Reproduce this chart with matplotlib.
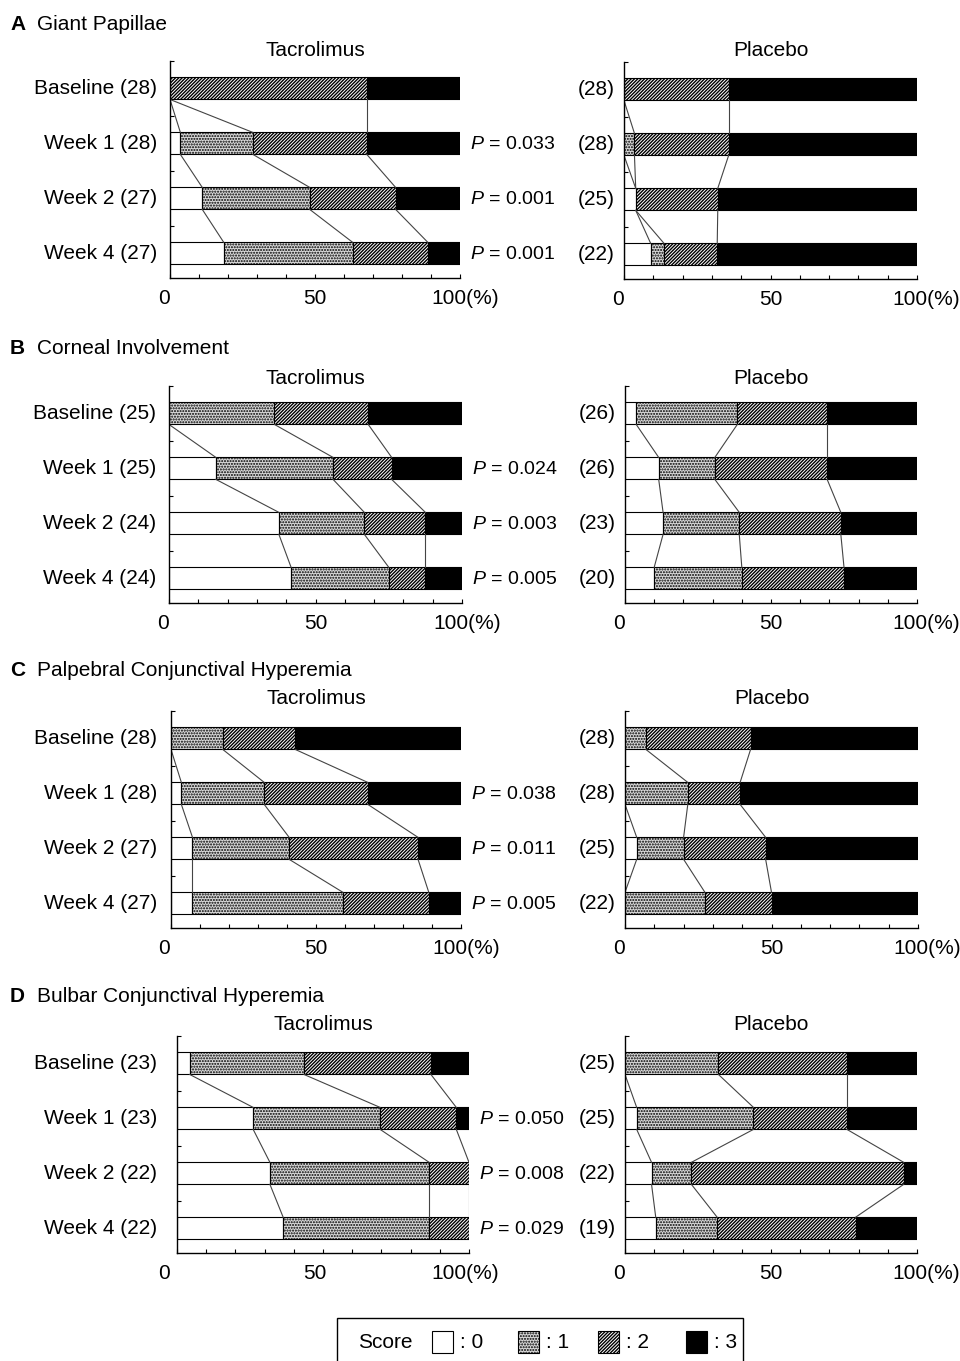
import matplotlib.pyplot as plt
from matplotlib.patches import Rectangle

plt.rcParams['font.family'] = ['Liberation Sans', 'DejaVu Sans']
plt.rcParams['mathtext.fontset'] = 'custom'
plt.rcParams['mathtext.rm'] = 'Liberation Sans'
plt.rcParams['mathtext.it'] = 'Liberation Sans:italic'
plt.rcParams['hatch.linewidth'] = 1.0

W, H = 960, 1361
FS = 15

timepoints = ['Baseline', 'Week 1', 'Week 2', 'Week 4']
scores = ['0', '1', '2', '3']
groups = ['Tacrolimus', 'Placebo']

# number of patients with score 0/1/2/3 at each time point
gp_tac = [[0, 0, 19, 9], [1, 7, 11, 9], [3, 10, 8, 6], [5, 12, 7, 3]]
gp_pla = [[0, 0, 10, 18], [0, 1, 9, 18], [1, 0, 7, 17], [2, 1, 4, 15]]
ci_tac = [[0, 9, 8, 8], [4, 10, 5, 6], [9, 7, 5, 3], [10, 8, 3, 3]]
ci_pla = [[1, 9, 8, 8], [3, 5, 10, 8], [3, 6, 8, 6], [2, 6, 7, 5]]
pc_tac = [[0, 5, 7, 16], [1, 8, 10, 9], [2, 9, 12, 4], [2, 14, 8, 3]]
pc_pla = [[0, 2, 10, 16], [0, 6, 5, 17], [1, 4, 7, 13], [0, 6, 5, 11]]
bc_tac = [[1, 9, 10, 3], [6, 10, 6, 1], [7, 12, 3, 0], [8, 11, 3, 0]]
bc_pla = [[0, 8, 11, 6], [1, 10, 8, 6], [2, 3, 16, 1], [2, 4, 9, 4]]

gp_p = ['0.033', '0.001', '0.001']
ci_p = ['0.024', '0.003', '0.005']
pc_p = ['0.038', '0.011', '0.005']
bc_p = ['0.050', '0.008', '0.029']

panel_letters = ['A', 'B', 'C', 'D']
panel_titles = ['Giant Papillae', 'Corneal Involvement',
                'Palpebral Conjunctival Hyperemia', 'Bulbar Conjunctival Hyperemia']
panel_data = [(gp_tac, gp_pla, gp_p), (ci_tac, ci_pla, ci_p),
              (pc_tac, pc_pla, pc_p), (bc_tac, bc_pla, bc_p)]

# layout in pixels: (left, right, bottom) of each axes, heading y, group title y
ax_px = [((170, 460, 278), (624, 917, 279)),
         ((169, 462, 603), (625, 917, 603)),
         ((171, 461, 928), (625, 918, 928)),
         ((177, 469, 1253), (625, 917, 1253))]
# where the row labels / x tick labels sit (px, left and right end of the scale)
lab_px = [((170, 460), (624, 917)),
          ((169, 462), (625, 917)),
          ((170, 461), (625, 918)),
          ((170, 460), (625, 917))]
head_y = [24, 349, 670, 996]
grp_y = [50, 378, 698, 1024]
AX_H = 217

styles = [dict(facecolor='white', hatch=None),
          dict(facecolor='#d9d9d9', hatch='......'),
          dict(facecolor='white', hatch='//////////'),
          dict(facecolor='black', hatch=None)]


def fx(px):
    return px / W


def fy(py):
    return 1 - py / H


def draw_bars(ax, counts):
    ypos = [3, 2, 1, 0]
    h = 0.4
    cums = []
    for row, y in zip(counts, ypos):
        n = sum(row)
        left = 0
        cum = [0]
        for k, c in enumerate(row):
            w = 100 * c / n
            if w > 0:
                ax.barh(y, w, left=left, height=h, edgecolor='black',
                        linewidth=0.8, **styles[k])
            left += w
            cum.append(left)
        cums.append(cum)
    for i in range(len(ypos) - 1):
        for k in (1, 2, 3):
            ax.plot([cums[i][k], cums[i + 1][k]], [ypos[i] - h / 2, ypos[i + 1] + h / 2],
                    color='#444444', lw=0.8, zorder=1)
    return ypos


fig = plt.figure(figsize=(W / 100, H / 100), dpi=100)

for p in range(4):
    tac, pla, pvals = panel_data[p]
    fig.text(fx(10), fy(head_y[p]), panel_letters[p], fontsize=FS, fontweight='bold',
             ha='left', va='center')
    fig.text(fx(37), fy(head_y[p]), panel_titles[p], fontsize=FS, ha='left', va='center')
    for g, counts in enumerate([tac, pla]):
        l, r, b = ax_px[p][g]
        ll, lr = lab_px[p][g]
        ax = fig.add_axes([fx(l), fy(b), (r - l) / W, AX_H / H])
        ypos = draw_bars(ax, counts)
        ax.set_xlim(0, 100)
        ax.set_ylim(-0.45, 3.5)
        for s in ('top', 'right'):
            ax.spines[s].set_visible(False)
        for s in ('left', 'bottom'):
            ax.spines[s].set_linewidth(1.0)
        ax.set_xticks(range(0, 101, 10))
        ax.set_xticklabels([])
        ax.set_yticks([0.5, 1.5, 2.5, 3.5])
        ax.set_yticklabels([])
        ax.tick_params(direction='in', length=3, width=0.8)
        # x labels
        ty = fy(b + 11)
        fig.text(fx(ll), ty, '0', fontsize=FS, ha='right', va='top')
        fig.text(fx((ll + lr) / 2), ty, '50', fontsize=FS, ha='center', va='top')
        fig.text(fx(lr + (5 if g == 0 else 9)), ty, '100(%)', fontsize=FS, ha='center', va='top')
        # row labels
        for t, row, y in zip(timepoints, counts, ypos):
            lab = f'{t} ({sum(row)})' if g == 0 else f'({sum(row)})'
            off_px = 13 if g == 0 else 9
            ax.annotate(lab, xy=(fx(ll - off_px), y), xycoords=(fig.transFigure, 'data'),
                        ha='right', va='center', fontsize=FS)
        if g == 0:
            for pv, y in zip(pvals, ypos[1:]):
                ax.annotate(f'$P$ = {pv}', xy=(1, y), xycoords=('axes fraction', 'data'),
                            xytext=(7, -1), textcoords='offset points', ha='left',
                            va='center', fontsize=FS - 1)
        fig.text(fx((l + r) / 2), fy(grp_y[p]), groups[g], fontsize=FS, ha='center', va='center')

# legend box
fig.add_artist(Rectangle((fx(337), fy(1375)), (743 - 337) / W, (1375 - 1318) / H,
                         transform=fig.transFigure, fill=False, lw=1.0, edgecolor='black'))
fig.text(fx(358), fy(1342), 'Score', fontsize=FS, ha='left', va='center')
sq_x = [432, 518, 598, 686]
for k, x0 in enumerate(sq_x):
    fig.add_artist(Rectangle((fx(x0), fy(1353)), 21 / W, 22 / H, transform=fig.transFigure,
                             edgecolor='black', lw=0.8, **styles[k]))
    fig.text(fx(x0 + 28), fy(1342), f': {scores[k]}', fontsize=FS, ha='left', va='center')

fig.savefig('out.png', dpi=100)
